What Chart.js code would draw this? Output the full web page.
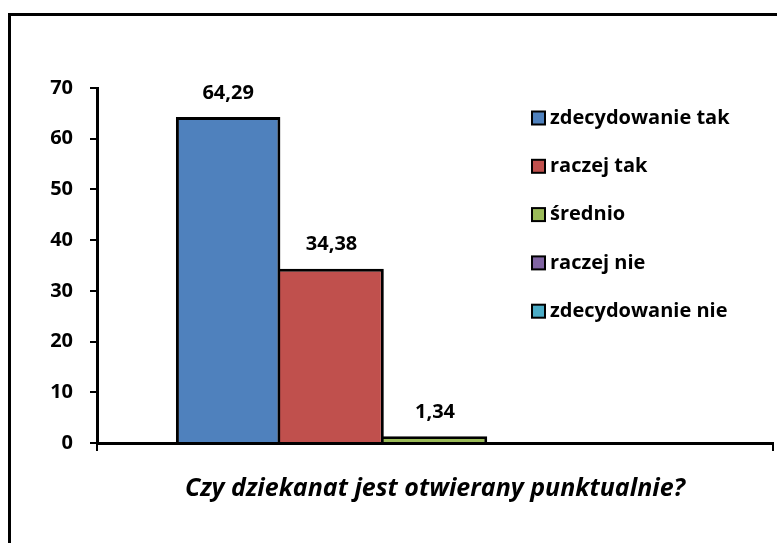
<!DOCTYPE html>
<html>
<head>
<meta charset="utf-8">
<script src="https://cdn.jsdelivr.net/npm/chart.js@4.4.1/dist/chart.umd.min.js"></script>
<style>
  html, body { margin: 0; padding: 0; background: #fff; overflow: hidden; }
  #ramka { position: absolute; left: 8px; top: 13px; width: 800px; height: 600px; border: 3px solid #000; }
  #wrap { position: absolute; left: 0; top: 0; width: 777px; height: 543px; }
</style>
</head>
<body>
<div id="ramka"></div>
<div id="wrap"><canvas id="wykres"></canvas></div>
<script>
// Dane wykresu
const kategorie = ["Czy dziekanat jest otwierany punktualnie?"];
const odpowiedzi = ["zdecydowanie tak", "raczej tak", "średnio", "raczej nie", "zdecydowanie nie"];
const wartosci = [64.29, 34.38, 1.34, null, null];
const kolory = ["#4F81BD", "#C0504D", "#9BBB59", "#8064A2", "#4BACC6"];
const etykietyY = [0, 10, 20, 30, 40, 50, 60, 70];

const FONT = "'Open Sans', 'Noto Sans', sans-serif";

// Etykiety wartości nad słupkami
const etykietyWartosci = {
  id: "etykietyWartosci",
  afterDatasetsDraw(chart) {
    const ctx = chart.ctx;
    ctx.save();
    ctx.font = "bold 20px " + FONT;
    ctx.fillStyle = "#000";
    ctx.textAlign = "center";
    ctx.textBaseline = "middle";
    chart.data.datasets.forEach((ds, i) => {
      const meta = chart.getDatasetMeta(i);
      meta.data.forEach((bar, j) => {
        const v = ds.data[j];
        if (v === null || v === undefined) return;
        ctx.fillText(v.toFixed(2).replace(".", ","), bar.x, bar.y - 24);
      });
    });
    ctx.restore();
  }
};

// Legenda po prawej, nałożona na obszar wykresu (jak w Excelu)
const legendaExcel = {
  id: "legendaExcel",
  afterDraw(chart) {
    const ctx = chart.ctx;
    ctx.save();
    ctx.font = "bold 20px " + FONT;
    ctx.textAlign = "left";
    ctx.textBaseline = "middle";
    chart.data.datasets.forEach((ds, i) => {
      const y = 118 + i * 48.3;
      ctx.fillStyle = ds.backgroundColor;
      ctx.fillRect(532, y - 6.5, 13, 13);
      ctx.lineWidth = 2;
      ctx.strokeStyle = "#000";
      ctx.strokeRect(532, y - 6.5, 13, 13);
      ctx.fillStyle = "#000";
      ctx.fillText(ds.label, 550, y);
    });
    ctx.restore();
  }
};

const ctx = document.getElementById("wykres").getContext("2d");
new Chart(ctx, {
  type: "bar",
  data: {
    labels: kategorie,
    datasets: odpowiedzi.map((nazwa, i) => ({
      label: nazwa,
      data: [wartosci[i]],
      backgroundColor: kolory[i],
      borderColor: "#000",
      // Chart.js rysuje serie od końca, więc prawa krawędź słupka przykrywa lewą kolejnego
      borderWidth: { top: 3, left: i === 0 ? 3 : 0, bottom: 0, right: 3 },
      barPercentage: 1.01,
      categoryPercentage: 0.765
    }))
  },
  options: {
    responsive: true,
    maintainAspectRatio: false,
    animation: false,
    layout: { padding: { top: 88, right: 4, left: 0, bottom: 0 } },
    plugins: {
      legend: { display: false },
      tooltip: { enabled: false }
    },
    scales: {
      x: {
        afterFit(scale) { scale.height = 100; },
        grid: {
          drawOnChartArea: false,
          drawTicks: true,
          tickLength: 8,
          color: "#000",
          lineWidth: 2,
          offset: true
        },
        border: { display: true, color: "#000", width: 3 },
        ticks: {
          padding: 23,
          color: "#000",
          font: { family: FONT, size: 25, style: "italic", weight: "bold" }
        }
      },
      y: {
        min: 0,
        max: 70,
        afterFit(scale) { scale.width = 97; },
        afterBuildTicks(scale) { scale.ticks = etykietyY.map(v => ({ value: v })); },
        grid: {
          drawOnChartArea: false,
          drawTicks: true,
          tickLength: 7,
          color: "#000",
          lineWidth: 2
        },
        border: { display: true, color: "#000", width: 3 },
        ticks: {
          padding: 17,
          color: "#000",
          font: { family: FONT, size: 20, weight: "bold" }
        }
      }
    }
  },
  plugins: [etykietyWartosci, legendaExcel]
});
</script>
</body>
</html>
